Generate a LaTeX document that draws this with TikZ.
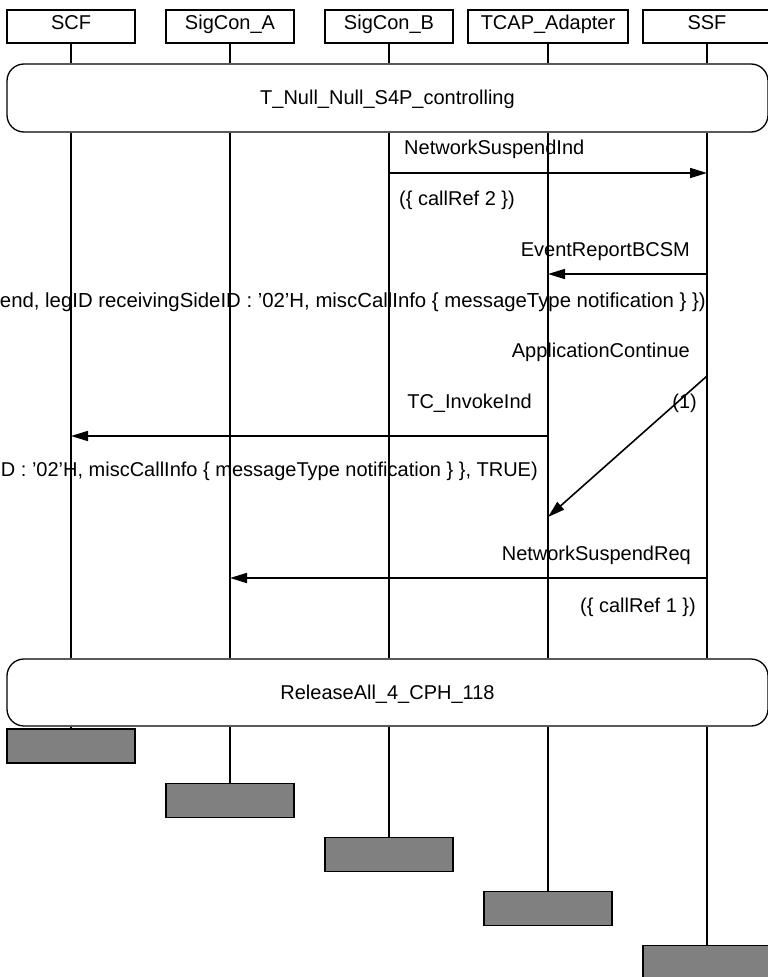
\documentclass[tikz,border=0pt]{standalone}
\usepackage{fontspec}
\setmainfont{Liberation Sans}
\usetikzlibrary{positioning,arrows.meta}

\begin{document}
\begin{tikzpicture}[
    x=1pt, y=-1pt,
    every node/.style={font=\fontsize{20}{24}\selectfont},
    headbox/.style={rectangle, draw, line width=1.3pt, minimum width=128pt, minimum height=33pt, inner sep=0pt, text height=15pt, text depth=9.5pt},
    refbox/.style={rectangle, draw, line width=1.3pt, rounded corners=17pt, minimum width=761pt, inner sep=0pt, text height=17pt, text depth=4pt},
    endbox/.style={rectangle, draw, line width=1.5pt, fill=gray, minimum width=128pt, minimum height=34pt, inner sep=0pt},
    life/.style={line width=1.2pt},
    msg/.style={-{Triangle[length=17pt, width=10pt]}, line width=1.6pt},
    msgtext/.style={inner sep=0pt},
]
\useasboundingbox (0,0) rectangle (768,977);

% Instances
\node[headbox] (scf) at (71,26.5) {SCF};
\node[headbox] (sigA) at (230,26.5) {SigCon\_A};
\node[headbox] (sigB) at (389,26.5) {SigCon\_B};
\node[headbox, minimum width=160pt] (tcap) at (548,26.5) {TCAP\_Adapter};
\node[headbox] (ssf) at (707,26.5) {SSF};

% References
\node[refbox, minimum height=68pt] (ctrl) at (387.5,98) {T\_Null\_Null\_S4P\_controlling};
\node[refbox, minimum height=67pt] (rel) at (387.5,692.5) {ReleaseAll\_4\_CPH\_118};

% Instance ends
\node[endbox] (scf-end) at (71,746) {};
\node[endbox] (sigA-end) at (230,800.5) {};
\node[endbox] (sigB-end) at (389,854.5) {};
\node[endbox] (tcap-end) at (548,908.5) {};
\node[endbox] (ssf-end) at (707,962.5) {};

% Lifelines
\foreach \n in {scf,sigA,sigB,tcap,ssf} {
    \draw[life] (\n) -- (\n |- ctrl.north);
    \draw[life] (\n |- ctrl.south) -- (\n |- rel.north);
    \draw[life] (\n |- rel.south) -- (\n-end);
}

% Message levels
\coordinate (t1) at (0,173);
\coordinate (t2) at (0,274);
\coordinate (t3) at (0,376);
\coordinate (t4) at (0,436);
\coordinate (t5) at (0,517);
\coordinate (t6) at (0,578);

% Messages
\draw[msg] (sigB |- t1) -- (ssf |- t1);
\draw[msg] (ssf |- t2) -- (tcap |- t2);
\draw[msg] (ssf |- t3) -- (tcap |- t5);
\draw[msg] (tcap |- t4) -- (scf |- t4);
\draw[msg] (ssf |- t6) -- (sigA |- t6);

% Message texts
\node[msgtext, anchor=base west] (m1) at (404,154) {NetworkSuspendInd};
\node[msgtext, anchor=base west] (p1) at (399,205) {(\{ callRef 2 \})};
\node[msgtext, anchor=base east] (m2) at (690,256) {EventReportBCSM};
\node[msgtext, anchor=base east, font=\fontsize{20.35}{24}\selectfont] (p2) at (706,307) {end, legID receivingSideID : '02'H, miscCallInfo \{ messageType notification \} \})};
\node[msgtext, anchor=base east] (m3) at (690,357) {ApplicationContinue};
\node[msgtext, anchor=base east] (p3) at (697,408) {(1)};
\node[msgtext, anchor=base east] (m4) at (532,408) {TC\_InvokeInd};
\node[msgtext, anchor=base east] (p4) at (538,476) {D : '02'H, miscCallInfo \{ messageType notification \} \}, TRUE)};
\node[msgtext, anchor=base east] (m5) at (691,560) {NetworkSuspendReq};
\node[msgtext, anchor=base east] (p5) at (696,612) {(\{ callRef 1 \})};

\end{tikzpicture}
\end{document}
